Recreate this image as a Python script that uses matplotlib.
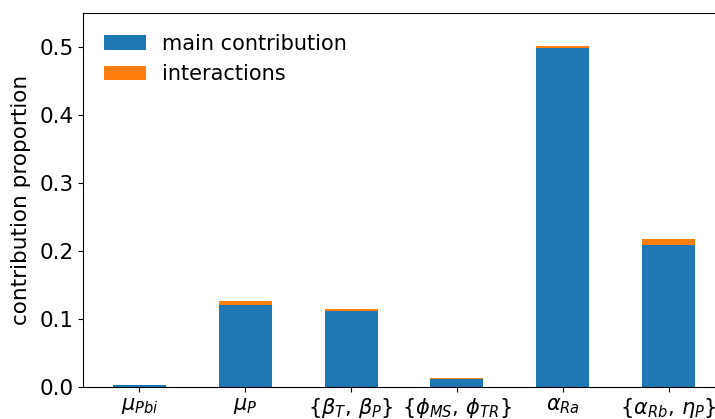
import matplotlib
matplotlib.use("Agg")
import matplotlib.pyplot as plt
import numpy as np

categories = [r"$\mu_{Pbi}$", r"$\mu_P$", r"$\{\beta_T,\,\beta_P\}$",
              r"$\{\phi_{MS},\,\phi_{TR}\}$", r"$\alpha_{Ra}$", r"$\{\alpha_{Rb},\,\eta_P\}$"]
main_contribution = [0.002, 0.120, 0.112, 0.0115, 0.499, 0.208]
interactions = [0.0003, 0.006, 0.003, 0.0008, 0.003, 0.009]

W, H = 715, 419
fig = plt.figure(figsize=(W / 100, H / 100), dpi=100)
left, right, bottom, top = 83.3, 721.5, 386.7, 13.0
ax = fig.add_axes([left / W, 1 - bottom / H, (right - left) / W, (bottom - top) / H])

x = np.arange(len(categories))
ax.bar(x, main_contribution, width=0.5, color="#1f77b4", label="main contribution")
ax.bar(x, interactions, width=0.5, bottom=main_contribution, color="#ff7f0e", label="interactions")

ax.set_xlim(-0.53, 5.5)
ax.set_ylim(0, 0.55)
ax.set_yticks([0.0, 0.1, 0.2, 0.3, 0.4, 0.5])
ax.set_xticks(x)
ax.set_xticklabels(categories, fontsize=15)
ax.tick_params(axis="y", labelsize=15.5)
ax.set_ylabel("contribution proportion", fontsize=15.5, labelpad=6)
ax.legend(loc="upper left", frameon=False, fontsize=15, handlelength=2.0,
          borderaxespad=0.6)

fig.savefig("out.png", dpi=100)
